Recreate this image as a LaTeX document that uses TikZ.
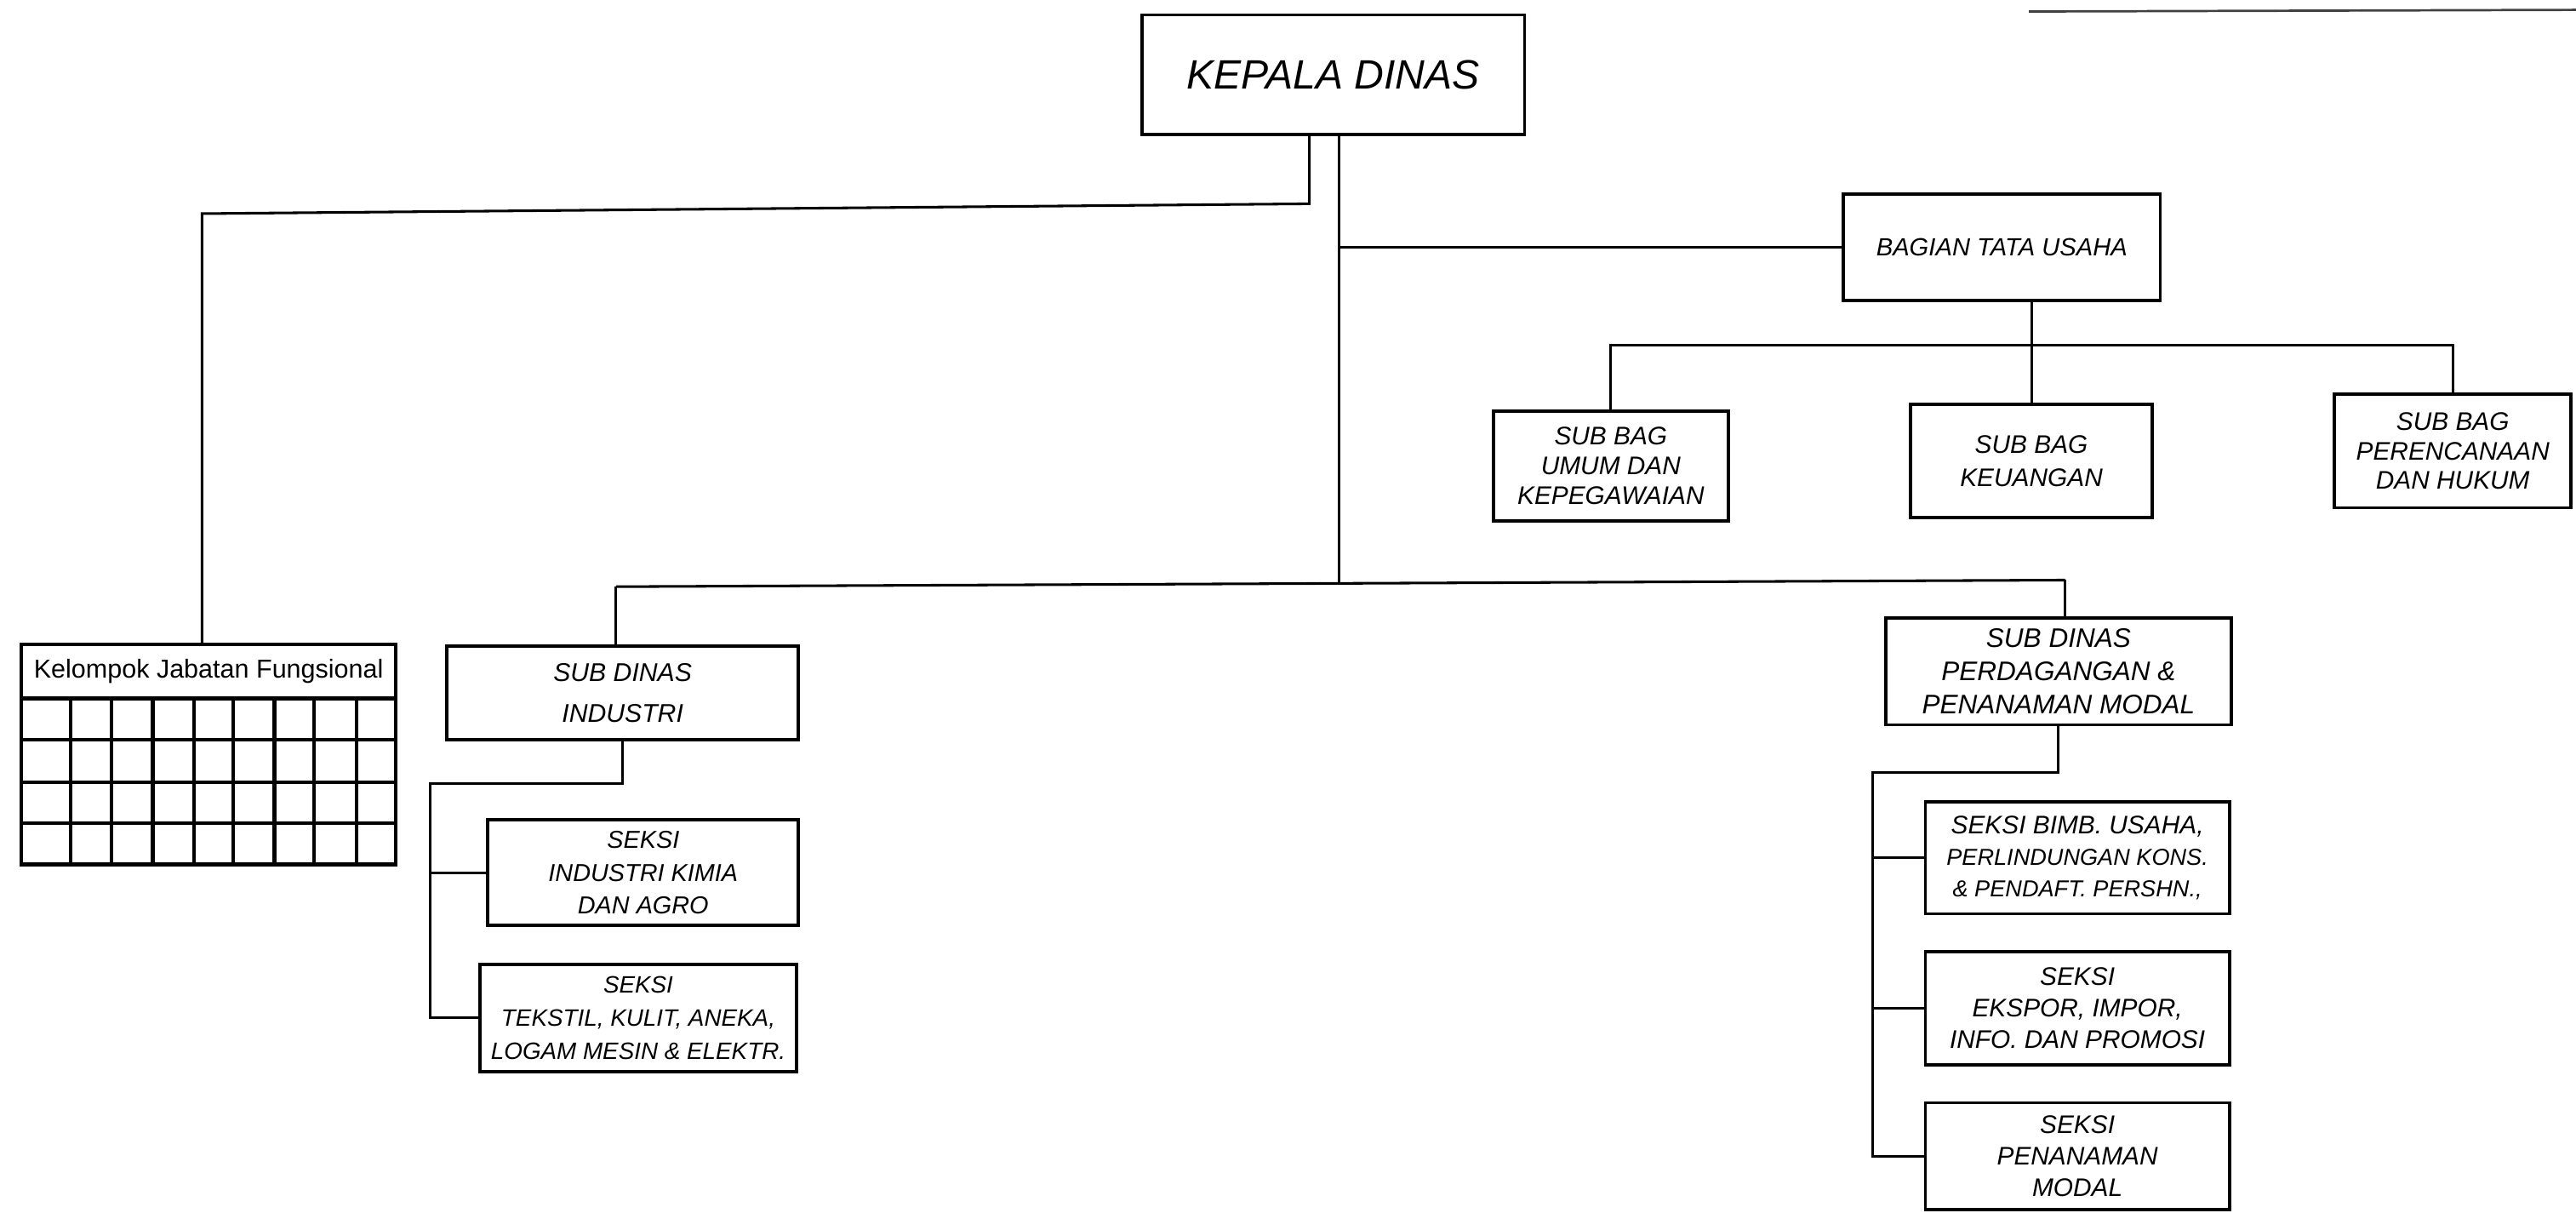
\documentclass[tikz,border=0pt]{standalone}
\usepackage{fontspec}
\setmainfont{Liberation Sans}
\tikzset{
  box/.style={draw, line width=1.1pt, rectangle, align=center},
  sz/.style 2 args={minimum width=#1*0.02cm, minimum height=#2*0.02cm},
  fs/.style 2 args={font=\fontsize{#1}{#2}\selectfont\itshape},
  link/.style={line width=0.9pt},
  gridline/.style={line width=1.3pt}
}
\begin{document}
\begin{tikzpicture}[x=0.02cm,y=-0.02cm,
  every node/.style={inner sep=0pt, outer sep=0pt}]
\useasboundingbox (0,0) rectangle (1568,738);

% header rule
\draw[line width=0.8pt, black!75] (1235,7) -- (1568,6);

% head
\node[box, sz={233}{73}, fs={14.2}{17}] (kd) at (811.5,45.5) {KEPALA DINAS};

% secretariat
\node[box, sz={193}{65}, fs={8.6}{10}] (btu) at (1218.5,150.5) {BAGIAN TATA USAHA};
\node[box, sz={143}{67}, fs={8.8}{10.2}] (sbu) at (980.5,283.5) {SUB BAG\\UMUM DAN\\KEPEGAWAIAN};
\node[box, sz={147}{69}, fs={8.8}{11.4}] (sbk) at (1236.5,280.5) {SUB BAG\\KEUANGAN};
\node[box, sz={144}{69}, fs={8.8}{10.2}] (sbp) at (1493,274.5) {SUB BAG\\PERENCANAAN\\DAN HUKUM};

% functional group with grid
\node[box, sz={228}{33}, font=\fontsize{9}{10}\selectfont] (kjf) at (127,408.5) {Kelompok Jabatan Fungsional};
\draw[gridline] (13,425) rectangle (241,526);
\foreach \x in {43,68,93,118,142,167,191,217}
  \draw[gridline] (\x,425) -- (\x,526);
\foreach \y in {450,476,501}
  \draw[gridline] (13,\y) -- (241,\y);

% industry sub-office
\node[box, sz={214}{57}, fs={8.9}{14.2}] (sdi) at (379,421.5) {SUB DINAS\\INDUSTRI};
\node[box, sz={189}{64}, fs={8.5}{11.4}] (ski) at (391.5,531) {SEKSI\\INDUSTRI KIMIA\\DAN AGRO};
\node[box, sz={193}{65}, fs={8.2}{11.4}] (skt) at (388.5,619.5) {SEKSI\\TEKSTIL, KULIT, ANEKA,\\LOGAM MESIN \& ELEKTR.};

% trade and investment sub-office
\node[box, sz={210}{65}, fs={9.3}{11.4}] (sdp) at (1253,408.5) {SUB DINAS\\PERDAGANGAN \&\\PENANAMAN MODAL};
\node[box, sz={185}{68}, fs={8.8}{10.8}] (sbb) at (1264.5,522) {SEKSI BIMB. USAHA,\\{\fontsize{8}{10.8}\selectfont PERLINDUNGAN KONS.}\\{\fontsize{8}{10.8}\selectfont \& PENDAFT. PERSHN.,}};
\node[box, sz={185}{69}, fs={8.8}{11}] (sep) at (1264.5,613.5) {SEKSI\\EKSPOR, IMPOR,\\INFO. DAN PROMOSI};
\node[box, sz={185}{65}, fs={8.8}{11}] (spm) at (1264.5,703.5) {SEKSI\\PENANAMAN\\MODAL};

% junctions
\coordinate (ja) at (797,124);
\coordinate (jb) at (123,130);
\coordinate (jc) at (815,356);
\coordinate (jd) at (375,357);
\coordinate (je) at (1257,353);
\coordinate (jf) at (1238,210);
\coordinate (jg) at (262,477);
\coordinate (jh) at (1140,470);

% connectors
\draw[link] (kd.south -| ja) -- (ja) -- (jb) -- (jb |- kjf.north);
\draw[link] (kd.south -| jc) -- (jc);
\draw[link] (btu.west -| jc) -- (btu.west);
\draw[link] (jd) -- (je);
\draw[link] (jd) -- (jd |- sdi.north);
\draw[link] (je) -- (je |- sdp.north);

\draw[link] (btu.south -| sbk.north) -- (sbk.north);
\draw[link] (sbu.north) -- (sbu.north |- jf) -- (sbp.north |- jf) -- (sbp.north);

\draw[link] (sdi.south) -- (sdi.south |- jg) -- (jg) -- (jg |- skt.west) -- (skt.west);
\draw[link] (jg |- ski.west) -- (ski.west);

\draw[link] (sdp.south) -- (sdp.south |- jh) -- (jh) -- (jh |- spm.west) -- (spm.west);
\draw[link] (jh |- sbb.west) -- (sbb.west);
\draw[link] (jh |- sep.west) -- (sep.west);
\end{tikzpicture}
\end{document}
